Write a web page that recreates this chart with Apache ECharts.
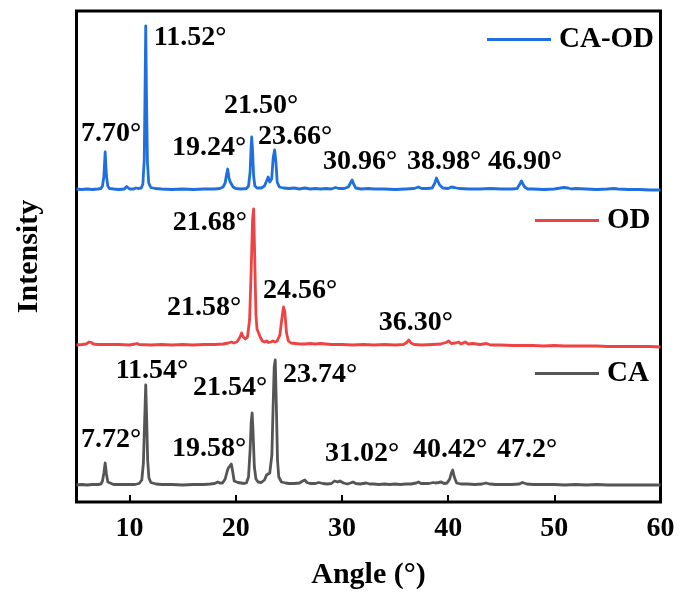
<!DOCTYPE html>
<html>
<head>
<meta charset="utf-8">
<script src="https://cdn.jsdelivr.net/npm/echarts@6/dist/echarts.min.js"></script>
<style>
  html, body { margin: 0; padding: 0; background: #fff; }
  #chart { width: 688px; height: 595px; }
</style>
</head>
<body>
<div id="chart"></div>
<script>
// XRD patterns, intensities relative to each pattern's own baseline
const angleTicks = [10, 20, 30, 40, 50, 60];

const patternCAOD = [
  [5.0,1],[5.5,0.5],[6.0,1],[6.5,0.5],[7.0,1],[7.3,1.5],[7.45,4],[7.58,14],[7.70,38],[7.82,14],[7.95,4],[8.1,1.5],
  [8.5,1],[9.0,0.5],[9.5,1],[9.62,2.5],[9.73,3.5],[9.85,2],[10.0,1],[10.4,1],[10.6,2],[10.8,1.5],[11.1,2],
  [11.25,6],[11.38,30],[11.45,95],[11.52,164],[11.59,95],[11.68,28],[11.8,7],[12.0,2.5],[12.4,1.5],[13.0,1],
  [14,0.5],[15,1],[16,0.5],[17,1],[18,1],[18.5,1.5],[18.8,3],[19.0,7],[19.12,15],[19.24,21],[19.36,12],[19.48,8],
  [19.6,7],[19.75,3],[20.0,1.5],[20.5,1],[21.0,1.5],[21.2,4],[21.35,18],[21.44,42],[21.50,53],[21.58,40],[21.68,14],
  [21.8,4],[22.0,2],[22.4,2],[22.7,4],[22.9,9],[23.05,13],[23.2,8],[23.38,11],[23.52,32],[23.66,40],[23.78,28],
  [23.9,8],[24.1,3],[24.5,2],[25,1.5],[25.5,2],[26,1],[26.5,2],[27,1],[27.5,1.5],[28,1],[28.5,1.5],[29,1],
  [29.4,2.5],[29.7,1.5],[30.2,1.5],[30.6,3],[30.8,7],[30.96,10],[31.1,6],[31.3,2],[31.8,1],[32.5,1.5],[33,1],
  [34,1],[35,0.5],[36,1],[36.8,1.5],[37.2,3],[37.5,1.5],[38.0,1.5],[38.5,2],[38.75,7],[38.9,12],[39.05,11],
  [39.2,5],[39.5,2],[40.0,1.5],[40.3,3],[40.45,4],[40.6,2.5],[41,1.5],[42,1],[43,1],[44,1.5],[45,1],[46,1],
  [46.5,1.5],[46.75,6],[46.9,9],[47.05,8],[47.2,3],[47.5,1],[48,1],[49,0.5],[50,1],[50.6,2],[50.9,2.5],[51.3,2],
  [51.6,1],[52,1.5],[53,1],[54,0.5],[55,1],[55.6,1.5],[56,1],[57,0.5],[58,0.5],[59,0],[60,0]
];

const patternOD = [
  [5,0],[5.5,0.5],[5.9,1],[6.2,3],[6.4,2.5],[6.6,1],[7,0.5],[8,0.5],[9,0.5],[10,0],[10.5,1],[10.7,1.5],[10.9,0.5],
  [12,0],[13,0.5],[14,0],[15,0.5],[16,0],[17,0.5],[18,0.5],[18.8,1],[19.3,2],[19.6,3],[19.8,2],[20.1,3],[20.35,7],
  [20.55,12],[20.7,8],[20.9,6],[21.1,8],[21.3,25],[21.45,75],[21.58,125],[21.68,136],[21.78,90],[21.9,30],[22.0,16],
  [22.15,15],[22.3,8],[22.5,4],[22.7,3],[22.9,4],[23.1,2.5],[23.3,3],[23.5,4],[23.7,3],[23.9,4],[24.15,10],[24.35,27],
  [24.5,38],[24.62,33],[24.78,12],[24.95,4],[25.2,2],[25.6,1.5],[26,1],[26.5,1],[27,1.5],[27.5,1],[28,1.5],[29,0.5],
  [30,0.5],[31,0],[32,0.5],[33,0],[34,0.5],[35,0],[35.8,0.5],[36.1,2.5],[36.3,5],[36.5,2],[36.8,0.5],[37.5,0],
  [38.5,0.5],[39.3,1],[39.8,2.5],[40.05,4],[40.3,1.5],[40.7,2],[41.0,3],[41.2,1],[41.6,3],[41.9,1],[42.3,1.5],
  [43,0.5],[43.6,1.5],[44,0],[45,0],[46,-0.5],[47,-0.5],[48,-0.5],[49,-1],[50,-0.5],[51,-1],[52,-1],[53,-1],
  [54,-1],[55,-1.5],[56,-1.5],[57,-1.5],[58,-1.5],[59,-1.5],[60,-2]
];

const patternCA = [
  [5,0],[5.5,0.5],[6,0],[6.5,0.5],[7,0.5],[7.3,1],[7.45,4],[7.58,12],[7.70,22],[7.82,11],[7.95,3],[8.1,1],[8.5,0.5],
  [9,0.5],[9.5,0.5],[10,0.5],[10.5,0.5],[10.9,1.5],[11.15,5],[11.3,22],[11.42,65],[11.52,100],[11.6,70],[11.7,25],
  [11.82,7],[12.0,2.5],[12.5,1],[13,0.5],[14,0.5],[15,0],[16,0.5],[17,0.5],[17.6,1],[18,1.5],[18.3,3],[18.5,2],
  [18.75,2],[19.0,6],[19.2,14],[19.3,17],[19.42,15],[19.58,21],[19.7,14],[19.85,4],[20.0,2],[20.2,2.5],[20.35,3.5],
  [20.5,2],[20.8,1.5],[21.0,2],[21.2,8],[21.35,35],[21.45,62],[21.54,72],[21.62,55],[21.75,18],[21.9,6],[22.1,3],
  [22.4,2.5],[22.7,5],[22.9,10],[23.05,12],[23.2,12],[23.4,30],[23.52,80],[23.62,118],[23.72,125],[23.82,80],
  [23.93,25],[24.05,8],[24.3,3],[24.7,2],[25.0,1.5],[25.5,1.5],[26.0,2],[26.3,4],[26.5,5],[26.7,2.5],[27.0,1.5],
  [27.5,1.5],[27.8,2.5],[27.95,3],[28.2,1.5],[28.6,1],[29.0,1.5],[29.3,4],[29.45,5],[29.6,3],[29.8,4],[29.97,5],
  [30.15,2],[30.5,1],[30.8,2],[31.05,3],[31.3,1.5],[31.7,1],[32.0,1.5],[32.3,2],[32.6,1],[33,1],[33.5,0.5],[34,1],
  [34.5,0.5],[35,1],[35.5,0.5],[36,1],[36.5,1],[37.0,2],[37.2,3],[37.45,1.5],[37.8,1.5],[38.2,1.5],[38.6,2.5],
  [38.8,2],[39.1,2.5],[39.35,3],[39.6,1.5],[39.9,2],[40.15,6],[40.3,12],[40.43,15],[40.58,8],[40.8,2],[41.2,1],
  [41.8,1],[42.5,0.5],[43.2,1],[43.55,2],[43.9,1],[44.5,0.5],[45,0.5],[46,0.5],[46.7,1],[47.0,2.5],[47.17,3],
  [47.4,1],[48,0.5],[49,0.5],[50,0.5],[51,0],[52,0.5],[53,0],[54,0.5],[55,0],[56,0],[57,0],[58,0],[59,0],[60,0]
];

// vertical offsets used to stack the three patterns
const offsetCAOD = 312;
const offsetOD = 157;
const offsetCA = 17;

// peak annotations: [text, angle, intensity] anchored at the label centre
const labelsCAOD = [
  ['11.52°', 15.69, 464], ['7.70°', 8.25, 368], ['21.50°', 22.38, 396], ['19.24°', 17.48, 354],
  ['23.66°', 25.58, 365], ['30.96°', 31.70, 340], ['38.98°', 39.61, 340], ['46.90°', 47.24, 340]
];
const labelsOD = [
  ['21.68°', 17.57, 279], ['21.58°', 17.01, 194], ['24.56°', 26.05, 211], ['36.30°', 36.97, 179]
];
const labelsCA = [
  ['11.54°', 12.11, 131], ['21.54°', 19.46, 114], ['23.74°', 27.93, 127], ['7.72°', 8.25, 62],
  ['19.58°', 17.48, 53], ['31.02°', 31.89, 48], ['40.42°', 40.18, 52], ['47.2°', 47.43, 52]
];

const FONT = '"Liberation Serif", "Times New Roman", serif';
const colors = { 'CA-OD': '#1f6fde', 'OD': '#ef4343', 'CA': '#555555' };

function shifted(pattern, offset) {
  return pattern.map(p => [p[0], p[1] + offset]);
}

function lineSeries(name, pattern, offset) {
  return {
    name: name,
    type: 'line',
    data: shifted(pattern, offset),
    showSymbol: false,
    symbol: 'none',
    smooth: false,
    animation: false,
    lineStyle: { color: colors[name], width: 2.8, join: 'round' },
    itemStyle: { color: colors[name] },
    z: 3
  };
}

function labelSeries(labels) {
  return {
    type: 'scatter',
    silent: true,
    symbolSize: 0,
    animation: false,
    itemStyle: { opacity: 1, color: '#000' },
    data: labels.map(l => ({ value: [l[1], l[2]], name: l[0] })),
    label: {
      show: true,
      position: 'inside',
      formatter: p => p.name,
      fontFamily: FONT,
      fontWeight: 'bold',
      fontSize: 28,
      color: '#000',
      textBorderWidth: 0
    },
    z: 5
  };
}

function legendFor(name, left, top) {
  return {
    data: [name],
    left: left,
    top: top,
    padding: 0,
    icon: 'rect',
    itemWidth: 64,
    itemHeight: 3,
    selectedMode: false,
    textStyle: {
      fontFamily: FONT,
      fontWeight: 'bold',
      fontSize: 29,
      color: '#000',
      padding: [0, 0, 0, 3]
    }
  };
}

const chart = echarts.init(document.getElementById('chart'), null, { renderer: 'canvas' });

chart.setOption({
  backgroundColor: '#fff',
  animation: false,
  grid: {
    left: 76.5, top: 11, right: 27.5, bottom: 93,
    show: true, borderColor: '#000', borderWidth: 3, backgroundColor: 'transparent'
  },
  legend: [
    legendFor('CA-OD', 487, 25),
    legendFor('OD', 535, 206),
    legendFor('CA', 535, 359)
  ],
  xAxis: {
    type: 'value',
    min: 5,
    max: 60,
    name: 'Angle (°)',
    nameLocation: 'middle',
    nameGap: 58,
    nameTextStyle: { fontFamily: FONT, fontWeight: 'bold', fontSize: 30, color: '#000' },
    axisLine: { show: false },
    axisTick: {
      show: true, inside: true, length: 7,
      lineStyle: { color: '#000', width: 2 },
      customValues: angleTicks
    },
    axisLabel: {
      show: true, margin: 13,
      customValues: angleTicks,
      fontFamily: FONT, fontWeight: 'bold', fontSize: 28, color: '#000'
    },
    splitLine: { show: false }
  },
  yAxis: {
    type: 'value',
    min: 0,
    max: 491,
    name: 'Intensity',
    nameLocation: 'middle',
    nameGap: 32,
    nameTextStyle: { fontFamily: FONT, fontWeight: 'bold', fontSize: 30, color: '#000' },
    axisLine: { show: false },
    axisTick: { show: false },
    axisLabel: { show: false },
    splitLine: { show: false }
  },
  series: [
    lineSeries('CA-OD', patternCAOD, offsetCAOD),
    lineSeries('OD', patternOD, offsetOD),
    lineSeries('CA', patternCA, offsetCA),
    labelSeries(labelsCAOD),
    labelSeries(labelsOD),
    labelSeries(labelsCA)
  ]
});
</script>
</body>
</html>
